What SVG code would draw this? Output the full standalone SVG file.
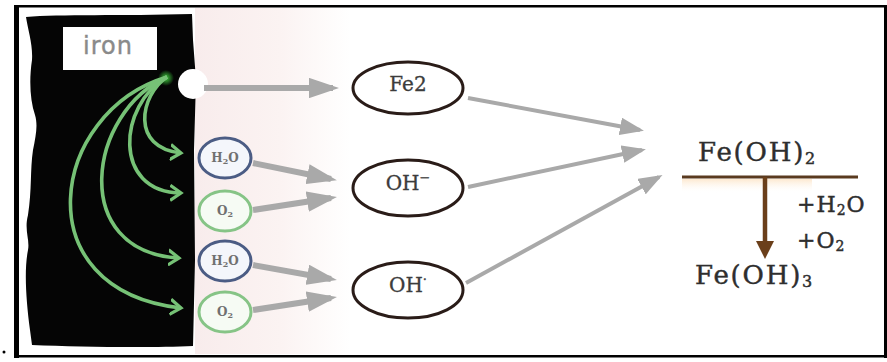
<svg xmlns="http://www.w3.org/2000/svg" width="887" height="362" viewBox="0 0 887 362">
  <style>
    .conn { stroke: #a9a9a9; stroke-width: 6; fill: none; }
    .thin { stroke-width: 4; }
    .green { stroke: #76c276; stroke-width: 3.6; fill: none; }
    .ion { fill: none; stroke: #2a1c18; stroke-width: 3; }
    .lbl { font-family: "DejaVu Serif", "Liberation Serif", serif; fill: #3c3c3c; font-size: 20px; stroke: #3c3c3c; stroke-width: 0.3; }
    .small { font-family: "DejaVu Serif", "Liberation Serif", serif; font-size: 12px; fill: #707070; font-weight: bold; }
    .chem { font-family: "DejaVu Serif", "Liberation Serif", serif; fill: #2e2e2e; stroke: #2e2e2e; stroke-width: 0.45; }
  </style>
  <defs>
    <marker id="grayHead" markerWidth="5" markerHeight="3.4" refX="4" refY="1.7" orient="auto" markerUnits="strokeWidth">
      <path d="M0,0 L5,1.7 L0,3.4 Z" fill="#a9a9a9"/>
    </marker>
    <marker id="grayHeadThin" markerWidth="6" markerHeight="4.4" refX="5" refY="2.2" orient="auto" markerUnits="strokeWidth">
      <path d="M0,0 L6,2.2 L0,4.4 Z" fill="#a9a9a9"/>
    </marker>
    <marker id="greenHead" markerWidth="4" markerHeight="5" refX="3" refY="2.5" orient="auto" markerUnits="strokeWidth">
      <path d="M0,0.4 L3,2.5 L0,4.6" fill="none" stroke="#76c276" stroke-width="0.9"/>
    </marker>
    <marker id="brownHead" markerWidth="4" markerHeight="4" refX="2" refY="2" orient="auto" markerUnits="strokeWidth">
      <path d="M0,0 L4,2 L0,4 Z" fill="#6b3f1a"/>
    </marker>
    <linearGradient id="tint" x1="0" y1="0" x2="1" y2="0">
      <stop offset="0" stop-color="#f8ecec"/>
      <stop offset="0.55" stop-color="#fbf3f2"/>
      <stop offset="1" stop-color="#ffffff"/>
    </linearGradient>
    <linearGradient id="glow" x1="0" y1="0" x2="0" y2="1">
      <stop offset="0" stop-color="#fbd9b0"/>
      <stop offset="1" stop-color="#ffffff" stop-opacity="0"/>
    </linearGradient>
    <radialGradient id="spark" cx="0.5" cy="0.5" r="0.5">
      <stop offset="0" stop-color="#3fd23f"/>
      <stop offset="1" stop-color="#3fd23f" stop-opacity="0"/>
    </radialGradient>
  </defs>

  <rect width="887" height="362" fill="#ffffff"/>
  <rect x="195" y="8" width="155" height="346" fill="url(#tint)"/>

  <!-- frame -->
  <rect x="14" y="5" width="5" height="353" fill="#000"/>
  <rect x="14" y="5" width="873" height="2.5" fill="#000"/>
  <rect x="14" y="355" width="873" height="2.5" fill="#000"/>
  <rect x="884" y="5" width="3" height="353" fill="#000"/>
  <circle cx="4" cy="352" r="1.5" fill="#000"/>

  <!-- iron plate -->
  <g id="iron">
    <path d="M26,17 C60,14 120,16 192,14 L193,40 L196,80 L194,150 L195,260 L193,346 C150,348 80,347 32,345 L30,330 C26,300 24,270 28,250 C30,240 24,230 28,215 C32,190 30,170 33,150 C36,135 38,125 35,115 C30,100 29,80 32,60 C33,45 28,30 26,17 Z" fill="#050505"/>
    <circle cx="193" cy="84" r="15" fill="#ffffff"/>
    <rect x="63" y="27" width="94" height="43" fill="#ffffff"/>
    <text x="108" y="54" text-anchor="middle" font-family="DejaVu Sans, Verdana, sans-serif" font-size="24" fill="#8a8a8a" letter-spacing="1" stroke="#8a8a8a" stroke-width="0.4">iron</text>
  </g>

  <!-- species at the surface -->
  <g id="h2o-1">
    <ellipse cx="225" cy="158" rx="26" ry="20" fill="#f4f6fb" stroke="#4b5c84" stroke-width="3"/>
    <text x="225" y="162" text-anchor="middle" class="small">H<tspan font-size="8" dy="2">2</tspan><tspan dy="-2">O</tspan></text>
  </g>
  <g id="o2-1">
    <ellipse cx="225" cy="211" rx="26" ry="20" fill="#f6fbf4" stroke="#86c486" stroke-width="3"/>
    <text x="225" y="215" text-anchor="middle" class="small">O<tspan font-size="8" dy="2">2</tspan></text>
  </g>
  <g id="h2o-2">
    <ellipse cx="225" cy="261" rx="26" ry="20" fill="#f4f6fb" stroke="#4b5c84" stroke-width="3"/>
    <text x="225" y="265" text-anchor="middle" class="small">H<tspan font-size="8" dy="2">2</tspan><tspan dy="-2">O</tspan></text>
  </g>
  <g id="o2-2">
    <ellipse cx="225" cy="312" rx="26" ry="20" fill="#f6fbf4" stroke="#86c486" stroke-width="3"/>
    <text x="225" y="316" text-anchor="middle" class="small">O<tspan font-size="8" dy="2">2</tspan></text>
  </g>

  <!-- ions -->
  <g id="fe2">
    <ellipse cx="408" cy="88" rx="55" ry="26" class="ion"/>
    <text x="408" y="91" text-anchor="middle" class="lbl">Fe2</text>
  </g>
  <g id="oh-1">
    <ellipse cx="408" cy="188" rx="55" ry="28" class="ion"/>
    <text x="408" y="190" text-anchor="middle" class="lbl">OH<tspan font-size="13" dy="-8">−</tspan></text>
  </g>
  <g id="oh-2">
    <ellipse cx="408" cy="290" rx="55" ry="28" class="ion"/>
    <text x="408" y="292" text-anchor="middle" class="lbl">OH<tspan font-size="13" dy="-8">·</tspan></text>
  </g>

  <!-- product and its oxidation -->
  <g id="feoh2">
    <text x="698" y="161" class="chem" font-size="26" letter-spacing="1.8">Fe(OH)<tspan font-size="16" dy="3">2</tspan></text>
  </g>
  <g id="feoh3">
    <text x="695" y="284" class="chem" font-size="26" letter-spacing="1.8">Fe(OH)<tspan font-size="16" dy="3">3</tspan></text>
  </g>
  <g id="reagents">
    <text x="797" y="212" class="chem" font-size="22" fill="#474747" letter-spacing="1">+H<tspan font-size="14" dy="3">2</tspan><tspan dy="-3">O</tspan></text>
    <text x="797" y="248" class="chem" font-size="22" fill="#555" letter-spacing="1">+O<tspan font-size="14" dy="3">2</tspan></text>
  </g>

  <!-- connectors -->
  <g id="connectors">
    <circle cx="166" cy="78" r="8" fill="url(#spark)"/>
    <path class="green" d="M167,77 C140,95 130,148 181,153" marker-end="url(#greenHead)"/>
    <path class="green" d="M167,77 C118,105 112,192 181,193" marker-end="url(#greenHead)"/>
    <path class="green" d="M167,77 C88,112 68,252 179,258" marker-end="url(#greenHead)"/>
    <path class="green" d="M167,77 C50,112 22,290 181,308" marker-end="url(#greenHead)"/>

    <path class="conn" d="M204,88 L333,88" marker-end="url(#grayHead)"/>
    <path class="conn" d="M253,163 L331,179" marker-end="url(#grayHead)"/>
    <path class="conn" d="M253,210 L331,198" marker-end="url(#grayHead)"/>
    <path class="conn" d="M253,265 L331,279" marker-end="url(#grayHead)"/>
    <path class="conn" d="M253,310 L331,298" marker-end="url(#grayHead)"/>

    <path class="conn thin" d="M468,98 L640,130" marker-end="url(#grayHeadThin)"/>
    <path class="conn thin" d="M468,187 L642,150" marker-end="url(#grayHeadThin)"/>
    <path class="conn thin" d="M466,283 L659,177" marker-end="url(#grayHeadThin)"/>

    <rect x="682" y="179" width="130" height="14" fill="url(#glow)" opacity="0.6"/>
    <path d="M682,177 L858,177" stroke="#5a3a1f" stroke-width="3"/>
    <path d="M765,177 L765,250" stroke="#6b3f1a" stroke-width="4.5" marker-end="url(#brownHead)"/>
  </g>
</svg>
